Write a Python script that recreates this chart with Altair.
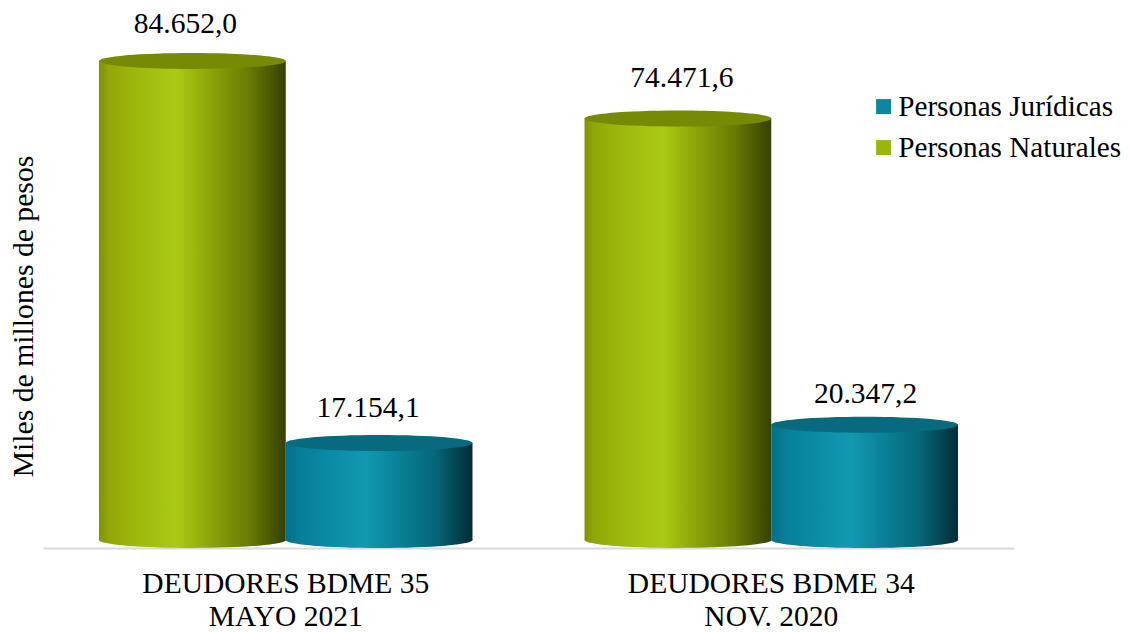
import altair as alt
import pandas as pd

categories = ["DEUDORES BDME 35|MAYO 2021", "DEUDORES BDME 34|NOV. 2020"]
series_names = ["Personas Naturales", "Personas Jurídicas"]
naturales = [84652.0, 74471.6]
juridicas = [17154.1, 20347.2]
labels_naturales = ["84.652,0", "74.471,6"]
labels_juridicas = ["17.154,1", "20.347,2"]

rows = []
for i, c in enumerate(categories):
    rows.append(dict(cat=c, serie=series_names[0], valor=naturales[i], etiqueta=labels_naturales[i]))
    rows.append(dict(cat=c, serie=series_names[1], valor=juridicas[i], etiqueta=labels_juridicas[i]))
df = pd.DataFrame(rows)

FONT = "Liberation Serif"
FS = 29.5
ELLIPSE = "M -1 0 A 1 0.0856 0 1 0 1 0 A 1 0.0856 0 1 0 -1 0 Z"
ESIZE = 187 ** 2


def grad(stops):
    return alt.LinearGradient(
        gradient="linear", x1=0, x2=1, y1=0, y2=0,
        stops=[alt.GradientStop(offset=o, color=c) for o, c in stops],
    )


G_GREEN = grad([(0, "#7f9206"), (0.05, "#92a707"), (0.2, "#9eb80c"), (0.42, "#aaca14"),
                (0.58, "#8fa709"), (0.8, "#6a7c04"), (1, "#364000")])
G_TEAL = grad([(0, "#056f88"), (0.08, "#077f99"), (0.25, "#0b8ca6"), (0.43, "#1299b1"),
               (0.6, "#0a8198"), (0.8, "#056678"), (1, "#022c37")])
TOP = {series_names[0]: "#788a04", series_names[1]: "#076a7e"}
GRAD = {series_names[0]: G_GREEN, series_names[1]: G_TEAL}

x = alt.X("cat:N", sort=categories, scale=alt.Scale(paddingInner=0, paddingOuter=0),
          axis=alt.Axis(title=None, labelExpr="split(datum.label,'|')", labelAngle=0, ticks=False,
                        domainColor="#d9d9d9", domainWidth=2, offset=8, labelPadding=21,
                        labelFont=FONT, labelFontSize=FS, labelColor="#000000", labelLimit=500,
                        labelLineHeight=33, grid=False))
xo = alt.XOffset("serie:N", sort=series_names,
                 scale=alt.Scale(paddingInner=0, paddingOuter=0.3))
yscale = alt.Scale(domain=[0, 94000], nice=False)
yaxis = alt.Axis(title="Miles de millones de pesos", domain=False, ticks=False, labels=False,
                 grid=False, titleFont=FONT, titleFontSize=FS + 0.2, titleFontWeight="normal",
                 titleColor="#000000", titleX=-20, titleY=308, titleAngle=-90,
                 titleAlign="center", titleBaseline="middle")
y = alt.Y("valor:Q", scale=yscale, axis=yaxis)

layers = []
for s in series_names:
    d = df[df.serie == s]
    base = alt.Chart(d)
    layers.append(base.mark_point(filled=True, shape=ELLIPSE, size=ESIZE, opacity=1, fill=GRAD[s], stroke=None)
                  .encode(x=x, xOffset=xo, y=alt.Y(datum=0, scale=yscale, axis=yaxis)))
    layers.append(base.mark_bar(fill=GRAD[s], stroke=None).encode(x=x, xOffset=xo, y=y, y2=alt.Y2(datum=0)))
    layers.append(base.mark_point(filled=True, shape=ELLIPSE, size=ESIZE, opacity=1, fill=TOP[s], stroke=None)
                  .encode(x=x, xOffset=xo, y=y))

label_nudge = {"84.652,0": (-7, -37), "74.471,6": (4, -41), "17.154,1": (-11, -35), "20.347,2": (1, -31)}
for lab, (dx, dy) in label_nudge.items():
    layers.append(alt.Chart(df[df.etiqueta == lab]).mark_text(
        font=FONT, fontSize=FS, color="#000000", dx=dx, dy=dy, baseline="middle", align="center"
    ).encode(x=x, xOffset=xo, y=y, text="etiqueta:N"))

legend_df = pd.DataFrame({"serie": ["Personas Jurídicas", "Personas Naturales"]})
layers.append(alt.Chart(legend_df).mark_point(filled=True, size=0, opacity=1).encode(
    color=alt.Color("serie:N", sort=["Personas Jurídicas", "Personas Naturales"],
                    scale=alt.Scale(domain=["Personas Jurídicas", "Personas Naturales"],
                                    range=["#0a86a1", "#9cb508"]),
                    legend=alt.Legend(title=None, orient="none", legendX=826, legendY=84,
                                      symbolType="square", symbolSize=225, symbolOpacity=1,
                                      labelFont=FONT, labelFontSize=FS - 0.3, labelColor="#000000",
                                      rowPadding=11, labelOffset=0, labelLimit=400))
))

chart = alt.layer(*layers).properties(
    width=971, height=532,
    autosize=alt.AutoSizeParams(type="none"),
    padding={"left": 35, "top": 0, "right": 108, "bottom": 92},
).configure_view(stroke=None).configure_axis(labelFontWeight="normal").resolve_scale(
    x="shared", y="shared", color="independent")

chart.save("out.html", embed_options={"renderer": "svg", "actions": False})
